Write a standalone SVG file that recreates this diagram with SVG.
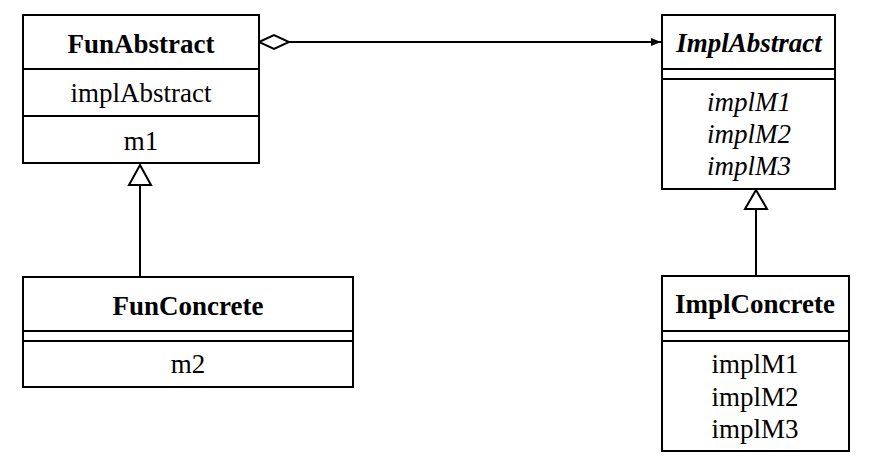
<svg xmlns="http://www.w3.org/2000/svg" width="886" height="463" viewBox="0 0 886 463">
<style>
.box{fill:#fff;stroke:#000;stroke-width:2}
.ln{stroke:#000;stroke-width:2;fill:none}
text{font-family:"Liberation Serif","Times New Roman",serif;font-size:27px;fill:#000;text-anchor:middle}
.b{font-weight:bold}
.i{font-style:italic}
</style>
<defs>
<marker id="arr" viewBox="0 0 10 8" refX="10" refY="4" markerWidth="10" markerHeight="8" markerUnits="userSpaceOnUse" orient="auto">
<path d="M0,0 L10,4 L0,8 z" fill="#000"/>
</marker>
</defs>
<rect width="886" height="463" fill="#fff"/>
<g id="connectors">
<line class="ln" x1="289" y1="42" x2="661" y2="42" marker-end="url(#arr)"/>
<polygon class="ln" points="259,42 274,35 289,42 274,49" fill="#fff"/>
<line class="ln" x1="140" y1="185" x2="140" y2="277"/>
<polygon class="ln" points="140,165 151,185 129,185" fill="#fff"/>
<line class="ln" x1="756" y1="209" x2="756" y2="276"/>
<polygon class="ln" points="756,190 767,209 745,209" fill="#fff"/>
</g>
<g id="FunAbstract">
<rect class="box" x="23" y="15" width="236" height="148"/>
<line class="ln" x1="23" y1="69" x2="259" y2="69"/>
<line class="ln" x1="23" y1="116" x2="259" y2="116"/>
<text class="b" x="141" y="53">FunAbstract</text>
<text x="141" y="102">implAbstract</text>
<text x="141" y="150">m1</text>
</g>
<g id="ImplAbstract">
<rect class="box" x="662" y="15" width="173" height="174"/>
<line class="ln" x1="662" y1="69" x2="835" y2="69"/>
<line class="ln" x1="662" y1="79" x2="835" y2="79"/>
<text class="b i" x="749" y="52">ImplAbstract</text>
<text class="i" x="749" y="111">implM1</text>
<text class="i" x="749" y="143">implM2</text>
<text class="i" x="749" y="175">implM3</text>
</g>
<g id="FunConcrete">
<rect class="box" x="23" y="277" width="330" height="110"/>
<line class="ln" x1="23" y1="331" x2="353" y2="331"/>
<line class="ln" x1="23" y1="341" x2="353" y2="341"/>
<text class="b" x="188" y="315">FunConcrete</text>
<text x="188" y="373">m2</text>
</g>
<g id="ImplConcrete">
<rect class="box" x="662" y="276" width="187" height="175"/>
<line class="ln" x1="662" y1="331" x2="849" y2="331"/>
<line class="ln" x1="662" y1="341" x2="849" y2="341"/>
<text class="b" x="755" y="313">ImplConcrete</text>
<text x="755" y="373">implM1</text>
<text x="755" y="406">implM2</text>
<text x="755" y="438">implM3</text>
</g>
</svg>
